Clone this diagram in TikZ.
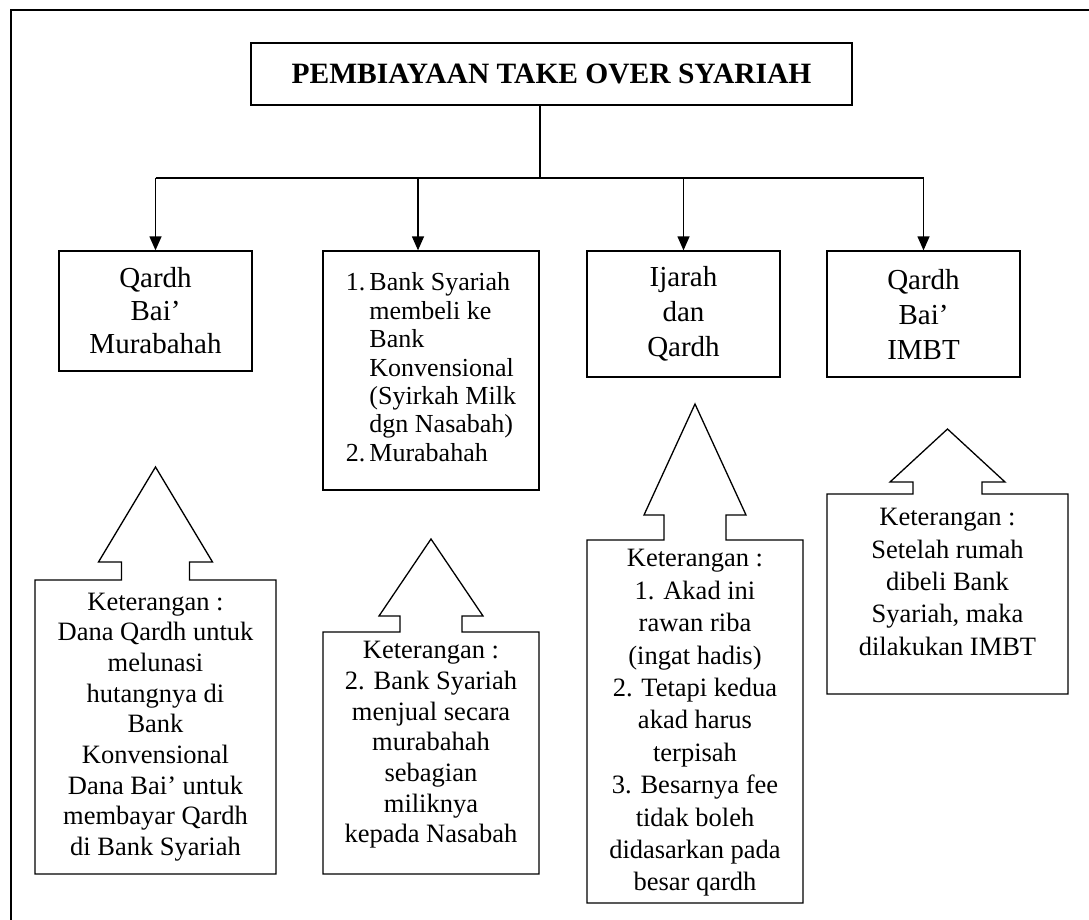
\documentclass[tikz,border=0pt]{standalone}
\usepackage{fontspec}
\setmainfont{Liberation Serif}
\usetikzlibrary{arrows.meta}

% Up-arrow callout outline: #1 left, #2 right, #3 top, #4 bottom,
% #5 axis x, #6 shaft half-width, #7 head half-width, #8 head base y, #9 tip y
\newcommand\calloutpath[9]{%
  \draw[callout] (#1,#3) -- ({#5-#6},#3) -- ({#5-#6},#8) -- ({#5-#7},#8)
    -- (#5,#9) -- ({#5+#7},#8) -- ({#5+#6},#8) -- ({#5+#6},#3)
    -- (#2,#3) -- (#2,#4) -- (#1,#4) -- cycle;}

\begin{document}
\begin{tikzpicture}[x=1pt,y=-1pt,
  box/.style={draw, line width=1.3pt, inner sep=0pt, align=center},
  flow/.style={line width=1.3pt, -{Triangle[length=14pt,width=12pt]}},
  link/.style={line width=1.3pt},
  callout/.style={line width=1.3pt, line join=miter},
  bigtxt/.style={font=\fontsize{29}{33}\selectfont},
  widetxt/.style={font=\fontsize{29}{35}\selectfont},
  note/.style={font=\fontsize{26.5}{30.7}\selectfont, align=center, inner sep=0pt},
  widenote/.style={font=\fontsize{26.5}{32.4}\selectfont, align=center, inner sep=0pt},
]
\useasboundingbox (0,0) rectangle (1089,920);
\fill[white] (0,0) rectangle (1089,920);

% page frame (only its top and left edges fall inside the page)
\draw[line width=1.8pt] (1095,10) -- (11,10) -- (11,926);

% title
\node[draw, line width=1.6pt, minimum width=601pt, minimum height=62pt,
      inner sep=0pt, font=\bfseries\fontsize{29.5}{33}\selectfont]
  (title) at (551.5,74) {PEMBIAYAAN TAKE OVER SYARIAH};

% the four schemes
\node[box, bigtxt, minimum width=193pt, minimum height=120pt]
  (b1) at (155.5,311) {Qardh\\Bai’\\Murabahah};
\node[box, minimum width=216pt, minimum height=239pt,
      font=\fontsize{26}{28.4}\selectfont]
  (b2) at (431,370.5) {%
  \begin{tabular}{@{}l@{\hspace{4pt}}l@{}}
  1. & Bank Syariah\\
     & membeli ke\\
     & Bank\\
     & Konvensional\\
     & (Syirkah Milk\\
     & dgn Nasabah)\\
  2. & Murabahah
  \end{tabular}};
\node[box, widetxt, minimum width=193pt, minimum height=126pt]
  (b3) at (683.5,314) {Ijarah\\dan\\Qardh};
\node[box, widetxt, minimum width=193pt, minimum height=126pt]
  (b4) at (923.5,314) {Qardh\\Bai’\\IMBT};

% connectors from the title down to each scheme
\coordinate (j) at (540,178);
\draw[link] (title.south -| j) -- (j);
\draw[link] (b1.north |- j) -- (b4.north |- j);
\draw[flow] (b1.north |- j) -- (b1.north);
\draw[flow] ([xshift=-13pt]b2.north |- j) -- ([xshift=-13pt]b2.north);
\draw[flow] (b3.north |- j) -- (b3.north);
\draw[flow] (b4.north |- j) -- (b4.north);

% explanatory callouts
\calloutpath{35}{276}{580}{874}{155.5}{34}{57}{562}{467}
\node[note] (n1) at (155.5,727) {Keterangan :\\Dana Qardh untuk\\melunasi\\hutangnya di\\Bank\\Konvensional\\Dana Bai’ untuk\\membayar Qardh\\di Bank Syariah};

\calloutpath{323}{539}{632}{874}{431}{31}{52}{616}{539}
\node[note] (n2) at (431,745) {Keterangan :\\2. Bank Syariah\\menjual secara\\murabahah\\sebagian\\miliknya\\kepada Nasabah};

\calloutpath{587}{803}{540}{903}{695}{31}{51}{515}{404}
\node[widenote] (n3) at (695,723) {Keterangan :\\1. Akad ini\\rawan riba\\(ingat hadis)\\2. Tetapi kedua\\akad harus\\terpisah\\3. Besarnya fee\\tidak boleh\\didasarkan pada\\besar qardh};

\calloutpath{827}{1068}{494}{694}{947.5}{34.5}{57.5}{482}{429}
\node[widenote] (n4) at (947.5,582) {Keterangan :\\Setelah rumah\\dibeli Bank\\Syariah, maka\\dilakukan IMBT};
\end{tikzpicture}
\end{document}
